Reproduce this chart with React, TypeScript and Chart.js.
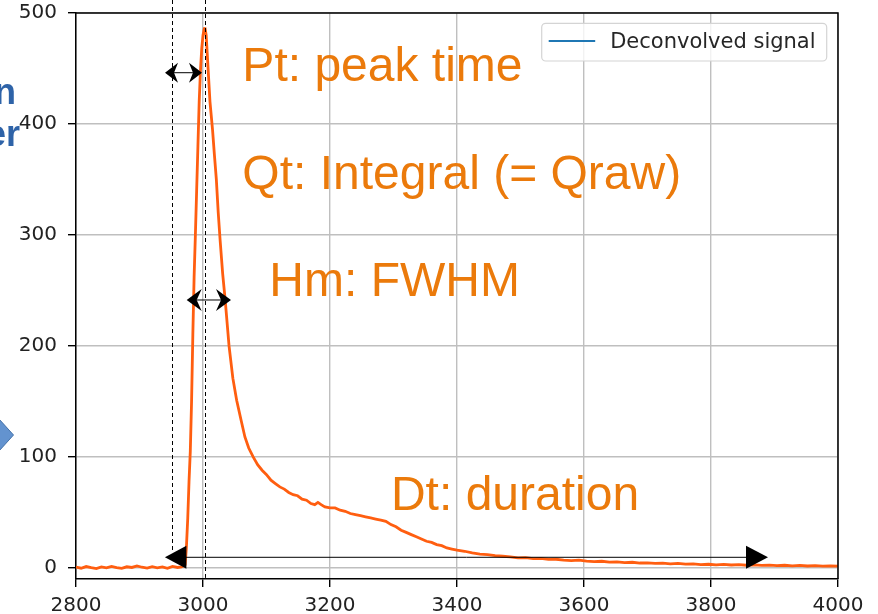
import React, { useEffect, useRef } from 'react';
import { Chart, registerables } from 'chart.js';

Chart.register(...registerables);

// ---------- data ----------
const signalX = [
  2800, 2808, 2816, 2824, 2832, 2840, 2848, 2856, 2864, 2872, 2880, 2888, 2896, 2904, 2912, 2920, 2928, 2936, 2944, 2952, 2960, 2966, 2970,
  2972, 2974, 2976, 2978, 2980, 2982, 2984, 2986, 2988, 2990, 2992, 2994, 2996, 2998, 3000, 3002, 3003,
  3005, 3008, 3011, 3015, 3018, 3021, 3024, 3027, 3031, 3035, 3041, 3047, 3053, 3060, 3066, 3072, 3079, 3086, 3093,
  3100, 3107, 3114, 3121, 3128, 3135, 3142, 3149, 3156, 3163, 3170, 3176, 3181, 3186, 3192,
  3200, 3208, 3216, 3224, 3232, 3240, 3248, 3256, 3264, 3272, 3280, 3288, 3296, 3304, 3312, 3320, 3328, 3336, 3344, 3352, 3360, 3368, 3376, 3384, 3392,
  3400, 3412, 3424, 3436, 3448, 3460, 3472, 3484, 3496, 3508, 3520, 3532, 3544, 3556, 3568, 3580, 3592,
  3604, 3616, 3628, 3640, 3652, 3664, 3676, 3688, 3700, 3712, 3724, 3736, 3748, 3760, 3772, 3784, 3796,
  3808, 3820, 3832, 3844, 3856, 3868, 3880, 3892, 3904, 3916, 3928, 3940, 3952, 3964, 3976, 3988, 4000,
];
const signalY = [
  0.8, -0.3, 1.2, 0.2, -0.6, 0.9, 0.0, 1.4, 0.3, -0.4, 1.0, 0.4, 1.8, 0.6, -0.2, 1.1, 0.1, 0.9, -0.3, 1.3, 0.4, 1.0, 2.0,
  3, 20, 45, 78, 105, 150, 210, 262, 300, 340, 380, 420, 448, 468, 480, 486, 487,
  480, 450, 420, 395, 372, 350, 320, 295, 265, 241, 200, 171, 151, 133, 118, 108, 100, 93, 88,
  84, 79, 76, 73, 71, 68, 66, 65, 62, 61, 58, 57, 59, 57, 55,
  54, 54, 52, 51, 49, 48, 47, 46, 45, 44, 43, 42, 39, 37, 34, 32, 30, 28, 26, 24, 23, 21, 20, 18, 17,
  16, 15, 13.5, 12.5, 12, 11, 10.5, 10, 9, 9.2, 8.3, 8.5, 7.6, 7.8, 7.0, 6.6, 7.0,
  6.2, 5.6, 6.0, 5.2, 5.5, 4.8, 5.1, 4.4, 4.6, 4.0, 4.3, 3.6, 4.0, 3.4, 3.7, 3.0, 3.3,
  2.8, 3.1, 2.6, 2.9, 2.4, 2.7, 2.2, 2.5, 2.0, 2.4, 1.9, 2.2, 1.7, 2.1, 1.6, 1.9, 1.6,
];
const xTicks = [2800, 3000, 3200, 3400, 3600, 3800, 4000];
const yTicks = [0, 100, 200, 300, 400, 500];
const seriesLabel = 'Deconvolved signal';

// annotation anchors (data units)
const markerStartX = 2950.7;
const markerPeakX = 3003;
const ptArrow = [2940.2, 2998.4, 446.2]; // x1, x2, y
const hmArrow = [2974.3, 3044.1, 241.4];
const dtArrow = [2940, 3889.8, 9.55];
const annotationTexts = ['Pt: peak time', 'Qt: Integral (= Qraw)', 'Hm: FWHM', 'Dt: duration'];
const annotationX = [3062, 3062, 3104.5, 3296];
const annotationY = [439, 341.4, 245, 52.2];

const LINE_COLOR = '#FF5E10';
const GRID = '#bfbfbf';
const ORANGE_TEXT = '#EB7A0B';

function stealthHead(ctx: CanvasRenderingContext2D, tipX: number, y: number, dir: number, len: number, half: number, notch: number) {
  ctx.beginPath();
  ctx.moveTo(tipX, y);
  ctx.lineTo(tipX - dir * len, y - half);
  ctx.lineTo(tipX - dir * (len - notch), y);
  ctx.lineTo(tipX - dir * len, y + half);
  ctx.closePath();
  ctx.fill();
}

const overlayPlugin = {
  id: 'overlays',
  afterDraw(chart: any) {
    const ctx: CanvasRenderingContext2D = chart.ctx;
    const ca = chart.chartArea;
    const xs = chart.scales.x;
    const ys = chart.scales.y;
    const px = (v: number) => xs.getPixelForValue(v);
    const py = (v: number) => ys.getPixelForValue(v);
    ctx.save();

    // top & right spines
    ctx.strokeStyle = '#000';
    ctx.lineWidth = 1.5;
    ctx.beginPath();
    ctx.moveTo(ca.left, ca.top);
    ctx.lineTo(ca.right, ca.top);
    ctx.lineTo(ca.right, ca.bottom);
    ctx.stroke();

    // legend
    const lx = ca.right - 11.3 - 285;
    const ly = ca.top + 10.3;
    ctx.beginPath();
    (ctx as any).roundRect(lx, ly, 285, 37.7, 4);
    ctx.fillStyle = 'rgba(255,255,255,0.8)';
    ctx.fill();
    ctx.strokeStyle = '#d4d4d4';
    ctx.lineWidth = 1.2;
    ctx.stroke();
    ctx.strokeStyle = '#1f77b4';
    ctx.lineWidth = 2.2;
    ctx.beginPath();
    ctx.moveTo(lx + 7, ly + 17.7);
    ctx.lineTo(lx + 53.5, ly + 17.7);
    ctx.stroke();
    ctx.fillStyle = '#262626';
    ctx.font = '21px "DejaVu Sans"';
    ctx.textBaseline = 'alphabetic';
    ctx.textAlign = 'left';
    ctx.fillText(seriesLabel, lx + 68.5, ly + 25);

    // dashed markers
    ctx.strokeStyle = '#000';
    ctx.lineWidth = 1;
    ctx.setLineDash([4, 3]);
    ctx.beginPath();
    ctx.moveTo(Math.round(px(markerStartX)) + 0.5, 0);
    ctx.lineTo(Math.round(px(markerStartX)) + 0.5, py(16));
    ctx.moveTo(Math.round(px(markerPeakX)) + 0.5, 0);
    ctx.lineTo(Math.round(px(markerPeakX)) + 0.5, py(-9));
    ctx.stroke();
    ctx.setLineDash([]);

    // arrows
    ctx.fillStyle = '#000';
    const smallArrow = (a: number[], len: number, half: number, notch: number) => {
      const x1 = px(a[0]);
      const x2 = px(a[1]);
      const y = py(a[2]);
      ctx.beginPath();
      ctx.moveTo(x1 + len - notch, y);
      ctx.lineTo(x2 - len + notch, y);
      ctx.stroke();
      stealthHead(ctx, x1, y, -1, len, half, notch);
      stealthHead(ctx, x2, y, 1, len, half, notch);
    };
    smallArrow(ptArrow, 13, 10, 4);
    smallArrow(hmArrow, 15, 11, 5);
    {
      const x1 = px(dtArrow[0]);
      const x2 = px(dtArrow[1]);
      const y = py(dtArrow[2]);
      ctx.beginPath();
      ctx.moveTo(x1 + 20, y);
      ctx.lineTo(x2 - 20, y);
      ctx.stroke();
      stealthHead(ctx, x1, y, -1, 21.5, 11.5, 0);
      stealthHead(ctx, x2, y, 1, 22, 11.5, 0);
    }

    // annotation texts
    ctx.fillStyle = ORANGE_TEXT;
    ctx.font = '48px "Liberation Sans"';
    ctx.textAlign = 'left';
    ctx.textBaseline = 'alphabetic';
    annotationTexts.forEach((t, i) => ctx.fillText(t, px(annotationX[i]), py(annotationY[i])));

    // slide fragments at the left edge
    ctx.fillStyle = '#2E63A8';
    ctx.font = 'bold 36px "Liberation Sans"';
    ctx.textAlign = 'right';
    ctx.fillText('n', 16, 103.5);
    ctx.fillText('er', 20, 145.5);
    ctx.beginPath();
    ctx.moveTo(-1, 419);
    ctx.lineTo(13.5, 435);
    ctx.lineTo(-1, 451);
    ctx.closePath();
    ctx.fillStyle = '#6393CF';
    ctx.fill();
    ctx.strokeStyle = '#4572A8';
    ctx.lineWidth = 1;
    ctx.stroke();

    ctx.restore();
  },
};

const zeroPad = (s: any) => {
  s.paddingTop = 0;
  s.paddingBottom = 0;
  s.paddingLeft = 0;
  s.paddingRight = 0;
};

export default function App() {
  const ref = useRef<HTMLCanvasElement>(null);
  useEffect(() => {
    const canvas = ref.current!;
    const chart = new Chart(canvas, {
      type: 'line',
      data: {
        datasets: [
          {
            label: seriesLabel,
            data: signalX.map((x, i) => ({ x, y: signalY[i] })),
            borderColor: LINE_COLOR,
            borderWidth: 2.8,
            pointRadius: 0,
            tension: 0,
            fill: false,
          },
        ],
      },
      options: {
        responsive: false,
        maintainAspectRatio: false,
        animation: false,
        layout: { padding: { top: 13, right: 40, left: 0, bottom: 0 } },
        plugins: { legend: { display: false }, tooltip: { enabled: false } },
        scales: {
          x: {
            type: 'linear',
            min: 2800,
            max: 4000,
            afterBuildTicks: (s: any) => {
              s.ticks = xTicks.map((v) => ({ value: v }));
            },
            afterFit: (s: any) => {
              s.height = 35;
              zeroPad(s);
            },
            grid: { color: GRID, lineWidth: 1.4, tickLength: 8, tickColor: '#000', tickWidth: 1.4 },
            border: { color: '#000', width: 1.5 },
            ticks: {
              color: '#222',
              font: { size: 20, family: 'DejaVu Sans' },
              padding: 7,
              maxRotation: 0,
              autoSkip: false,
              callback: (v: any) => String(v),
            },
          },
          y: {
            type: 'linear',
            min: -10,
            max: 500,
            afterBuildTicks: (s: any) => {
              s.ticks = yTicks.map((v) => ({ value: v }));
            },
            afterFit: (s: any) => {
              s.width = 76;
              zeroPad(s);
            },
            grid: { color: GRID, lineWidth: 1.4, tickLength: 8, tickColor: '#000', tickWidth: 1.4 },
            border: { color: '#000', width: 1.5 },
            ticks: {
              color: '#222',
              font: { size: 20, family: 'DejaVu Sans' },
              padding: 11,
              autoSkip: false,
              callback: (v: any) => String(v),
            },
          },
        },
      } as any,
      plugins: [overlayPlugin],
    });
    return () => chart.destroy();
  }, []);
  return (
    <div style={{ width: 878, height: 614 }}>
      <canvas
        ref={ref}
        width={878}
        height={614}
        style={{ position: 'fixed', left: 0, top: 0, width: 878, height: 614, background: '#fff' }}
      />
    </div>
  );
}
